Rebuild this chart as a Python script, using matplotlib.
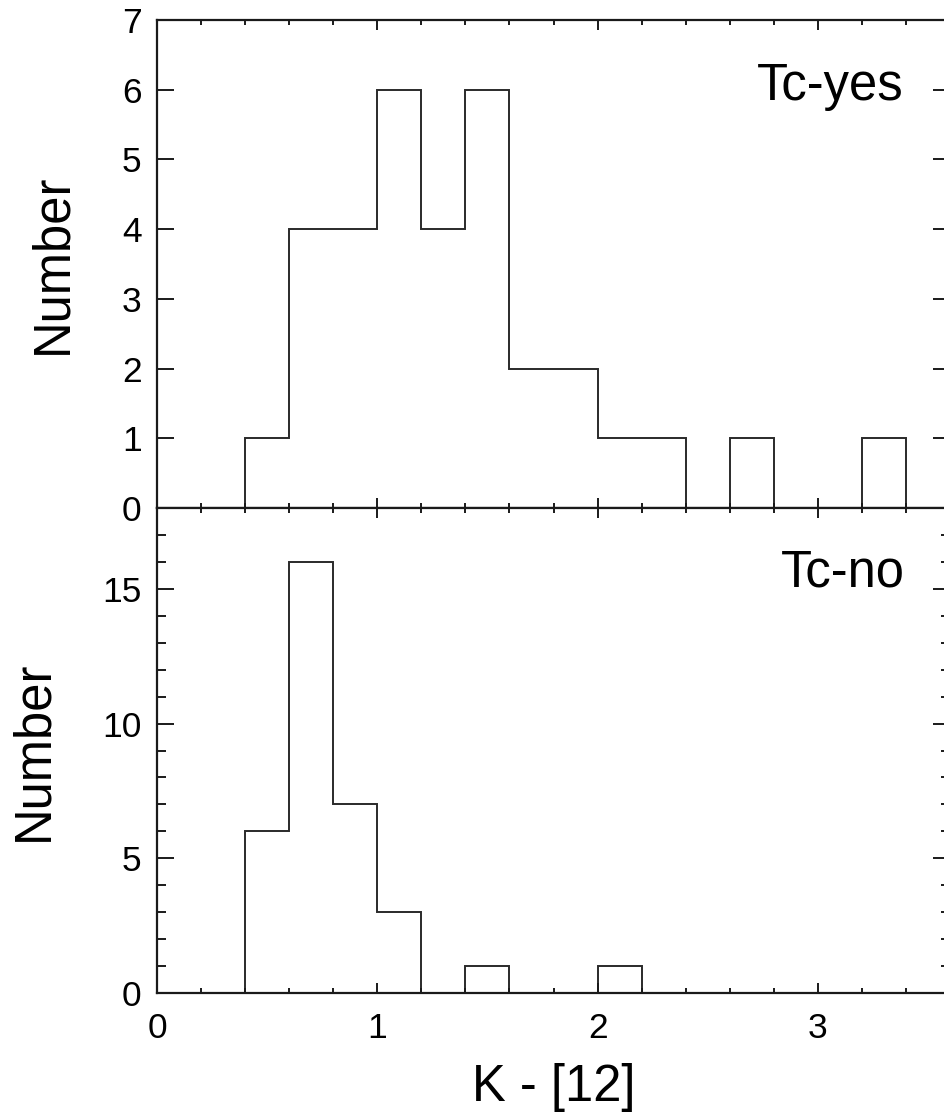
import numpy as np
import matplotlib
matplotlib.use("Agg")
import matplotlib.pyplot as plt
from matplotlib.ticker import MultipleLocator

plt.rcParams["font.family"] = ["Liberation Sans", "DejaVu Sans"]

# K - [12] colour histograms, 0.2 mag bins starting at 0.4
tc_yes_edges = [0.4, 0.6, 0.8, 1.0, 1.2, 1.4, 1.6, 1.8, 2.0, 2.2, 2.4,
                2.6, 2.8, 3.0, 3.2, 3.4]
tc_yes_counts = [1, 4, 4, 6, 4, 6, 2, 2, 1, 1, 0, 1, 0, 0, 1]

tc_no_edges = [0.4, 0.6, 0.8, 1.0, 1.2, 1.4, 1.6, 1.8, 2.0, 2.2]
tc_no_counts = [6, 16, 7, 3, 0, 1, 0, 0, 1]

W, H = 944, 1117
fig = plt.figure(figsize=(W / 100, H / 100), dpi=100)

left = 157 / W
width = 3.6 * 220.3 / W
ax_top = fig.add_axes([left, 1 - 508 / H, width, (508 - 20) / H])
ax_bot = fig.add_axes([left, 1 - 993 / H, width, (993 - 508) / H])

hist_kw = dict(fill=False, baseline=0, color="#2a2a2a", lw=1.4)
ax_top.stairs(tc_yes_counts, tc_yes_edges, **hist_kw)
ax_bot.stairs(tc_no_counts, tc_no_edges, **hist_kw)

ax_top.set_ylim(0, 7)
ax_bot.set_ylim(0, 18)
ax_top.yaxis.set_major_locator(MultipleLocator(1))
ax_bot.yaxis.set_major_locator(MultipleLocator(5))
ax_bot.yaxis.set_minor_locator(MultipleLocator(1))

for ax in (ax_top, ax_bot):
    ax.set_xlim(0, 3.6)
    ax.xaxis.set_major_locator(MultipleLocator(1))
    ax.xaxis.set_minor_locator(MultipleLocator(0.2))
    for sp in ax.spines.values():
        sp.set_linewidth(1.6)
        sp.set_color("#1a1a1a")
    ax.tick_params(which="both", direction="in", top=True, right=True,
                   color="#1a1a1a", width=1.4)
    ax.tick_params(axis="x", which="major", length=7.5, pad=14,
                   labelsize=25.5)
    ax.tick_params(axis="x", which="minor", length=3.8)
    ax.tick_params(axis="y", which="major", length=12, pad=11,
                   labelsize=25.5)
    ax.tick_params(axis="y", which="minor", length=6.5)
    ax.set_ylabel("Number", fontsize=36.5, labelpad=32)

ax_top.tick_params(axis="x", labelbottom=False)
ax_bot.set_xlabel("K - [12]", fontsize=36.5, labelpad=13)

ax_top.text(3.39, 5.85, "Tc-yes", fontsize=36.5, ha="right", va="baseline")
ax_bot.text(3.395, 15.07, "Tc-no", fontsize=36.5, ha="right", va="baseline")

fig.savefig("out.png", dpi=100)
